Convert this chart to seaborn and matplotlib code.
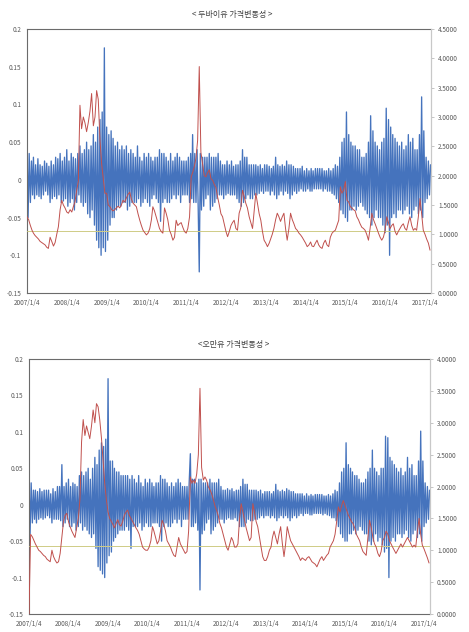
import numpy as np
import pandas as pd
import matplotlib
matplotlib.use("Agg")
import matplotlib.pyplot as plt
import matplotlib.dates as mdates
import seaborn as sns

# ---------------- data ----------------
title_dubai = "< 두바이유 가격변동성 >"
title_oman = "<오만유 가격변동성 >"
year_labels = ["2007/1/4", "2008/1/4", "2009/1/4", "2010/1/4", "2011/1/4", "2012/1/4",
               "2013/1/4", "2014/1/4", "2015/1/4", "2016/1/4", "2017/1/4"]
left_ticks = [-0.15, -0.1, -0.05, 0, 0.05, 0.1, 0.15, 0.2]
left_labels = ["-0.15", "-0.1", "-0.05", "0", "0.05", "0.1", "0.15", "0.2"]
dubai_right_max = 4.5
oman_right_max = 4.0
ref_level = 1.06

# daily-return series (left axis), ~3 readings per month, 2007/01 .. 2017/02
dubai_returns = [
    # 2007
    0.045, -0.05, 0.035, -0.03, 0.025, -0.02, 0.03, -0.025, 0.02, -0.02, 0.028, -0.022,
    0.02, -0.025, 0.018, -0.02, 0.025, -0.015, 0.022, -0.02, 0.018, -0.03, 0.025, -0.025,
    0.02, -0.022, 0.03, -0.025, 0.028, -0.02, 0.035, -0.03, 0.025, -0.028, 0.03, -0.025,
    # 2008
    0.04, -0.035, 0.025, -0.03, 0.035, -0.025, 0.03, -0.04, 0.028, -0.03, 0.035, -0.02,
    0.045, -0.03, 0.035, -0.035, 0.04, -0.03, 0.05, -0.045, 0.04, -0.05, 0.045, -0.04,
    0.06, -0.06, 0.05, -0.08, 0.07, -0.09, 0.08, -0.1, 0.09, -0.09, 0.175, -0.095,
    # 2009
    0.07, -0.08, 0.06, -0.06, 0.065, -0.05, 0.055, -0.05, 0.045, -0.04, 0.05, -0.035,
    0.04, -0.035, 0.045, -0.03, 0.04, -0.03, 0.045, -0.04, 0.035, -0.035, 0.04, -0.03,
    0.035, -0.03, 0.03, -0.03, 0.045, -0.025, 0.03, -0.035, 0.025, -0.03, 0.035, -0.025,
    # 2010
    0.03, -0.03, 0.035, -0.035, 0.03, -0.025, 0.025, -0.02, 0.03, -0.025, 0.03, -0.03,
    0.04, -0.055, 0.035, -0.03, 0.035, -0.025, 0.03, -0.03, 0.025, -0.03, 0.035, -0.025,
    0.025, -0.02, 0.03, -0.025, 0.035, -0.02, 0.03, -0.03, 0.025, -0.02, 0.025, -0.02,
    # 2011
    0.025, -0.02, 0.03, -0.03, 0.035, -0.025, 0.06, -0.03, 0.035, -0.03, 0.04, -0.035,
    -0.122, 0.035, -0.04, 0.03, -0.035, 0.03, -0.025, 0.03, -0.02, 0.035, -0.04, 0.03,
    -0.035, 0.03, -0.03, 0.03, -0.025, 0.035, -0.02, 0.025, -0.02, 0.02, -0.025, 0.02,
    # 2012
    -0.02, 0.025, -0.018, 0.02, -0.02, 0.025, -0.02, 0.018, -0.02, 0.02, -0.025, 0.02,
    -0.03, 0.025, -0.035, 0.04, -0.03, 0.03, -0.025, 0.03, -0.02, 0.02, -0.025, 0.02,
    -0.025, 0.02, -0.02, 0.02, -0.02, 0.018, -0.018, 0.02, -0.015, 0.015, -0.018, 0.02,
    # 2013
    -0.015, 0.02, -0.015, 0.018, -0.02, 0.015, -0.015, 0.018, -0.02, 0.03, -0.025, 0.02,
    -0.02, 0.018, -0.015, 0.02, -0.02, 0.018, -0.015, 0.025, -0.018, 0.02, -0.025, 0.02,
    -0.02, 0.018, -0.015, 0.015, -0.018, 0.015, -0.015, 0.015, -0.012, 0.018, -0.015, 0.012,
    # 2014
    -0.015, 0.015, -0.012, 0.012, -0.015, 0.015, -0.015, 0.012, -0.012, 0.015, -0.012, 0.015,
    -0.012, 0.015, -0.012, 0.015, -0.015, 0.012, -0.012, 0.012, -0.015, 0.015, -0.015, 0.012,
    -0.018, 0.015, -0.02, 0.02, -0.025, 0.018, -0.03, 0.03, -0.04, 0.05, -0.045, 0.055,
    # 2015
    -0.05, 0.09, -0.055, 0.06, -0.04, 0.05, -0.04, 0.045, -0.035, 0.045, -0.04, 0.04,
    -0.035, 0.04, -0.03, 0.03, -0.035, 0.03, -0.04, 0.035, -0.045, 0.05, -0.05, 0.085,
    -0.06, 0.065, -0.05, 0.05, -0.04, 0.045, -0.05, 0.04, -0.05, 0.05, -0.06, 0.055,
    # 2016
    -0.07, 0.095, -0.06, 0.08, -0.1, 0.07, -0.05, 0.06, -0.045, 0.055, -0.05, 0.05,
    -0.04, 0.045, -0.04, 0.05, -0.045, 0.04, -0.04, 0.045, -0.035, 0.06, -0.045, 0.05,
    -0.05, 0.055, -0.04, 0.04, -0.035, 0.04, -0.045, 0.06, -0.04, 0.11, -0.05, 0.065,
    # 2017
    -0.03, 0.03, -0.025, 0.025, -0.02, 0.02,
]

# volatility series (right axis), 2 readings per month, 2007/01 .. 2017/02
dubai_vol = [
    # 2007
    1.30, 1.25, 1.15, 1.07, 1.02, 0.98, 0.95, 0.92, 0.88, 0.86, 0.84, 0.82,
    0.78, 0.76, 0.95, 0.88, 0.80, 0.86, 1.00, 1.13, 1.42, 1.58, 1.50, 1.45,
    # 2008
    1.38, 1.36, 1.42, 1.38, 1.47, 1.55, 1.75, 1.90, 3.20, 2.80, 3.00, 2.90,
    2.75, 2.90, 3.10, 3.40, 2.85, 3.00, 3.45, 3.30, 2.60, 2.20, 1.95, 1.70,
    # 2009
    1.70, 1.50, 1.47, 1.42, 1.40, 1.42, 1.45, 1.48, 1.45, 1.50, 1.58, 1.55,
    1.62, 1.68, 1.72, 1.60, 1.53, 1.50, 1.47, 1.35, 1.24, 1.15, 1.07, 1.03,
    # 2010
    0.99, 1.02, 1.10, 1.25, 1.47, 1.40, 1.30, 1.20, 1.10, 1.05, 1.02, 1.45,
    1.36, 1.25, 1.07, 1.00, 0.90, 0.95, 1.24, 1.15, 1.18, 1.20, 1.12, 1.05,
    # 2011
    1.02, 1.10, 1.30, 1.98, 2.05, 2.15, 2.30, 2.60, 3.86, 2.40, 2.20, 2.00,
    1.98, 2.05, 2.10, 1.95, 1.92, 1.85, 1.80, 1.64, 1.50, 1.35, 1.30, 1.18,
    # 2012
    1.05, 0.96, 1.05, 1.15, 1.20, 1.24, 1.10, 1.07, 1.36, 1.45, 1.75, 1.65,
    1.53, 1.45, 1.30, 1.20, 1.10, 1.40, 1.70, 1.53, 1.35, 1.24, 1.05, 0.90,
    # 2013
    0.85, 0.79, 0.85, 0.93, 1.00, 1.10, 1.25, 1.36, 1.30, 1.22, 1.30, 1.36,
    1.10, 0.90, 1.10, 1.36, 1.25, 1.18, 1.10, 1.07, 1.02, 0.99, 0.95, 0.90,
    # 2014
    0.85, 0.79, 0.82, 0.87, 0.80, 0.79, 0.85, 0.90, 0.82, 0.78, 0.76, 0.85,
    0.90, 0.82, 0.79, 0.95, 1.02, 1.05, 1.07, 1.15, 1.24, 1.81, 1.70, 1.75,
    # 2015
    1.90, 1.58, 1.55, 1.47, 1.45, 1.42, 1.40, 1.30, 1.25, 1.18, 1.12, 1.10,
    1.07, 1.00, 0.90, 1.10, 1.36, 1.25, 1.18, 1.10, 1.02, 0.95, 0.90, 0.95,
    # 2016
    1.07, 1.30, 1.20, 1.10, 1.15, 1.18, 1.05, 0.99, 1.05, 1.10, 1.15, 1.18,
    1.10, 1.07, 1.20, 1.30, 1.15, 1.07, 1.10, 1.07, 1.30, 1.61, 1.35, 1.07,
    # 2017
    1.00, 0.92, 0.85, 0.73,
]

oman_returns = [
    # 2007
    0.035, -0.04, 0.03, -0.025, 0.02, -0.02, 0.02, -0.025, 0.018, -0.02, 0.022, -0.018,
    0.018, -0.02, 0.02, -0.018, 0.02, -0.015, 0.02, -0.018, 0.015, -0.025, 0.022, -0.02,
    0.018, -0.02, 0.025, -0.02, 0.025, -0.022, 0.055, -0.03, 0.025, -0.025, 0.03, -0.02,
    # 2008
    0.035, -0.03, 0.025, -0.03, 0.03, -0.025, 0.028, -0.035, 0.025, -0.03, 0.04, -0.025,
    0.045, -0.035, 0.04, -0.03, 0.045, -0.035, 0.05, -0.04, 0.035, -0.045, 0.05, -0.04,
    0.065, -0.06, 0.055, -0.085, 0.075, -0.09, 0.085, -0.095, 0.08, -0.1, 0.09, -0.08,
    # 2009
    0.173, -0.07, 0.06, -0.065, 0.06, -0.05, 0.05, -0.045, 0.045, -0.04, 0.045, -0.035,
    0.04, -0.035, 0.04, -0.035, 0.04, -0.03, 0.04, -0.035, 0.035, -0.06, 0.04, -0.03,
    0.035, -0.03, 0.03, -0.03, 0.04, -0.025, 0.03, -0.035, 0.025, -0.03, 0.035, -0.025,
    # 2010
    0.03, -0.03, 0.035, -0.03, 0.03, -0.025, 0.025, -0.025, 0.03, -0.025, 0.03, -0.03,
    0.04, -0.05, 0.035, -0.03, 0.035, -0.025, 0.03, -0.03, 0.025, -0.03, 0.03, -0.025,
    0.025, -0.02, 0.03, -0.025, 0.035, -0.02, 0.03, -0.03, 0.025, -0.02, 0.025, -0.02,
    # 2011
    0.025, -0.02, 0.03, 0.07, -0.03, 0.035, -0.03, 0.035, -0.025, 0.03, -0.035, 0.035,
    -0.117, 0.035, -0.04, 0.03, -0.035, 0.03, -0.025, 0.03, -0.02, 0.035, -0.04, 0.03,
    -0.035, 0.03, -0.03, 0.03, -0.025, 0.035, -0.02, 0.025, -0.02, 0.02, -0.025, 0.02,
    # 2012
    -0.02, 0.022, -0.018, 0.02, -0.02, 0.022, -0.02, 0.018, -0.018, 0.02, -0.022, 0.02,
    -0.03, 0.025, -0.03, 0.035, -0.03, 0.028, -0.025, 0.028, -0.02, 0.02, -0.022, 0.02,
    -0.022, 0.02, -0.02, 0.02, -0.02, 0.018, -0.018, 0.02, -0.015, 0.015, -0.018, 0.018,
    # 2013
    -0.015, 0.018, -0.015, 0.018, -0.018, 0.015, -0.015, 0.018, -0.018, 0.028, -0.022, 0.02,
    -0.018, 0.018, -0.015, 0.02, -0.018, 0.018, -0.015, 0.022, -0.018, 0.02, -0.022, 0.018,
    -0.018, 0.018, -0.015, 0.015, -0.018, 0.015, -0.015, 0.015, -0.012, 0.015, -0.015, 0.012,
    # 2014
    -0.012, 0.015, -0.012, 0.012, -0.014, 0.014, -0.014, 0.012, -0.012, 0.014, -0.012, 0.014,
    -0.012, 0.014, -0.012, 0.014, -0.014, 0.012, -0.012, 0.012, -0.014, 0.014, -0.015, 0.012,
    -0.018, 0.015, -0.018, 0.02, -0.022, 0.018, -0.03, 0.03, -0.04, 0.045, -0.045, 0.05,
    # 2015
    -0.05, 0.085, -0.05, 0.055, -0.04, 0.05, -0.04, 0.045, -0.035, 0.04, -0.04, 0.04,
    -0.035, 0.035, -0.03, 0.03, -0.035, 0.03, -0.04, 0.035, -0.04, 0.045, -0.05, 0.05,
    -0.055, 0.075, -0.05, 0.05, -0.04, 0.045, -0.05, 0.04, -0.045, 0.05, -0.055, 0.05,
    # 2016
    -0.065, 0.094, -0.06, 0.092, -0.1, 0.065, -0.05, 0.06, -0.045, 0.055, -0.05, 0.05,
    -0.04, 0.045, -0.04, 0.05, -0.045, 0.04, -0.04, 0.045, -0.035, 0.065, -0.045, 0.05,
    -0.05, 0.055, -0.04, 0.04, -0.035, 0.04, -0.045, 0.06, -0.04, 0.101, -0.05, 0.06,
    # 2017
    -0.03, 0.03, -0.025, 0.025, -0.02, 0.02,
]

oman_vol = [
    # 2007
    0.00, 1.25, 1.21, 1.15, 1.10, 1.05, 1.00, 0.98, 0.95, 0.92, 0.90, 0.86,
    0.84, 0.82, 1.00, 0.90, 0.84, 0.80, 0.82, 0.95, 1.20, 1.45, 1.55, 1.58,
    # 2008
    1.45, 1.37, 1.30, 1.25, 1.20, 1.35, 1.50, 1.80, 2.70, 3.05, 2.80, 2.95,
    2.85, 2.75, 2.95, 3.20, 3.00, 3.30, 3.25, 3.05, 2.76, 2.40, 2.05, 1.80,
    # 2009
    1.60, 1.50, 1.45, 1.40, 1.35, 1.42, 1.48, 1.40, 1.38, 1.45, 1.55, 1.60,
    1.63, 1.55, 1.50, 1.45, 1.40, 1.35, 1.31, 1.25, 1.15, 1.05, 1.02, 1.00,
    # 2010
    1.00, 1.05, 1.15, 1.37, 1.30, 1.20, 1.10, 1.15, 1.30, 1.47, 1.40, 1.30,
    1.15, 1.10, 1.05, 0.98, 0.92, 0.90, 1.05, 1.20, 1.10, 1.05, 1.00, 0.95,
    # 2011
    0.98, 1.30, 2.15, 2.05, 2.10, 2.05, 2.20, 2.50, 3.54, 2.30, 2.10, 2.15,
    2.10, 2.00, 1.95, 1.89, 1.80, 1.70, 1.63, 1.55, 1.42, 1.35, 1.25, 1.15,
    # 2012
    1.05, 1.00, 1.10, 1.20, 1.15, 1.05, 1.05, 1.10, 1.50, 1.73, 1.60, 1.47,
    1.35, 1.25, 1.15, 1.20, 1.73, 1.60, 1.45, 1.37, 1.20, 1.05, 0.90, 0.84,
    # 2013
    0.84, 0.90, 1.00, 1.05, 1.20, 1.30, 1.20, 1.10, 1.25, 1.37, 1.10, 0.90,
    1.10, 1.37, 1.25, 1.15, 1.10, 1.05, 1.00, 0.95, 0.90, 0.84, 0.88, 0.86,
    # 2014
    0.84, 0.88, 0.90, 0.86, 0.82, 0.80, 0.78, 0.74, 0.80, 0.86, 0.90, 0.84,
    0.88, 0.92, 0.95, 1.05, 1.10, 1.15, 1.25, 1.45, 1.68, 1.60, 1.70, 1.78,
    # 2015
    1.70, 1.63, 1.55, 1.50, 1.45, 1.42, 1.35, 1.25, 1.20, 1.15, 1.05, 0.98,
    0.95, 0.92, 1.20, 1.47, 1.35, 1.20, 1.10, 1.05, 0.95, 0.90, 0.98, 1.15,
    # 2016
    1.20, 1.30, 1.25, 1.15, 1.10, 1.05, 1.00, 0.95, 1.00, 1.05, 1.10, 1.05,
    1.10, 1.15, 1.20, 1.15, 1.10, 1.05, 1.08, 1.05, 1.30, 1.50, 1.25, 1.08,
    # 2017
    1.02, 0.95, 0.88, 0.80,
]

# ---------------- layout / styling ----------------
sns.set_style("white")
plt.rcParams["font.family"] = ["Noto Sans CJK KR", "DejaVu Sans"]

BLUE = "#4573bd"
RED = "#c0504d"
OLIVE = "#cfcc86"
TXT = "#595959"

months = pd.date_range("2007-01-01", "2017-02-01", freq="MS")
ret_dates = [m + pd.Timedelta(days=d) for m in months for d in (3, 13, 23)]
vol_dates = [m + pd.Timedelta(days=d) for m in months for d in (3, 18)]
x_start = pd.Timestamp("2007-01-04")
x_end = pd.Timestamp("2017-02-28")
year_ticks = [pd.Timestamp(f"{2007 + i}-01-04") for i in range(len(year_labels))]

fig = plt.figure(figsize=(4.69, 6.32), dpi=100)


def panel(rect, returns, vol, rmax, title, title_xy):
    ax = fig.add_axes(rect)
    df_r = pd.DataFrame({"date": ret_dates[:len(returns)], "ret": returns})
    sns.lineplot(data=df_r, x="date", y="ret", ax=ax, color=BLUE, linewidth=0.95,
                 estimator=None, sort=False)
    ax.set_xlim(x_start, x_end)
    ax.set_ylim(-0.15, 0.2)
    ax.set_yticks(left_ticks)
    ax.set_yticklabels(left_labels)
    ax.set_xticks(year_ticks)
    ax.set_xticklabels(year_labels)
    ax.set_xlabel("")
    ax.set_ylabel("")
    ax.tick_params(axis="both", length=0, labelsize=4.6, colors=TXT, pad=4)
    for s in ("left", "bottom", "top"):
        ax.spines[s].set_color("#6b6b6b")
        ax.spines[s].set_linewidth(0.8)
    ax.spines["right"].set_color("#c8c8c8")
    ax.spines["right"].set_linewidth(0.8)

    ax2 = ax.twinx()
    df_ref = pd.DataFrame({"date": [x_start, x_end], "lvl": [ref_level, ref_level]})
    sns.lineplot(data=df_ref, x="date", y="lvl", ax=ax2, color=OLIVE, linewidth=0.7)
    df_v = pd.DataFrame({"date": vol_dates[:len(vol)], "vol": vol})
    sns.lineplot(data=df_v, x="date", y="vol", ax=ax2, color=RED, linewidth=0.7,
                 estimator=None, sort=False)
    ax2.set_xlim(x_start, x_end)
    ax2.set_ylim(0, rmax)
    rt = np.arange(0, rmax + 0.001, 0.5)
    ax2.set_yticks(rt)
    ax2.set_yticklabels([f"{v:.4f}" for v in rt])
    ax2.set_ylabel("")
    ax2.tick_params(axis="y", length=2, width=0.6, color="#bbbbbb",
                    labelsize=4.6, labelcolor=TXT, pad=3)
    for s in ("left", "bottom", "top"):
        ax2.spines[s].set_visible(False)
    ax2.spines["right"].set_color("#c8c8c8")
    ax2.spines["right"].set_linewidth(0.8)

    fig.text(title_xy[0], title_xy[1], title, ha="center", va="center",
             fontsize=5.8, color="#404040")


panel([27 / 469, 1 - 293 / 632, (431 - 27) / 469, (293 - 29) / 632],
      dubai_returns, dubai_vol, dubai_right_max, title_dubai, (232 / 469, 1 - 15 / 632))
panel([29 / 469, 1 - 614 / 632, (430 - 29) / 469, (614 - 359) / 632],
      oman_returns, oman_vol, oman_right_max, title_oman, (234 / 469, 1 - 345 / 632))

fig.savefig("out.png", dpi=100)
